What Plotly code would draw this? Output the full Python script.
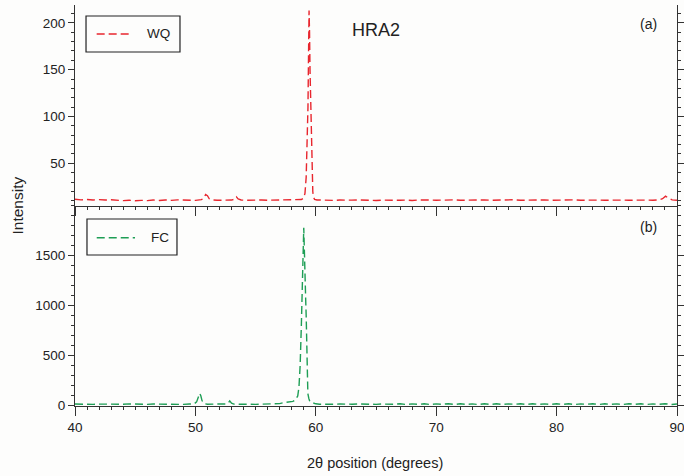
import plotly.graph_objects as go

# ---------------- data ----------------
wq_x = [40.0, 40.5, 41.0, 41.5, 42.0, 42.5, 43.0, 43.5, 44.0, 44.5, 45.0, 45.5, 46.0, 46.5, 47.0,
        47.5, 48.0, 48.5, 49.0, 49.5, 50.0, 50.5, 50.7, 50.85, 51.0, 51.15, 51.4, 51.8, 52.2, 52.6,
        53.0, 53.25, 53.4, 53.55, 53.8, 54.2, 54.6, 55.0, 55.5, 56.0, 56.5, 57.0, 57.5, 58.0, 58.5,
        58.8, 59.0, 59.1, 59.2, 59.3, 59.35, 59.4, 59.44, 59.48, 59.52, 59.56, 59.6, 59.65, 59.7,
        59.75, 59.8, 59.9, 60.1, 60.5, 61.0, 61.5, 62.0, 62.5, 63.0, 63.5, 64.0, 64.5, 65.0, 65.5,
        66.0, 66.5, 67.0, 67.5, 68.0, 68.5, 69.0, 69.5, 70.0, 70.5, 71.0, 71.5, 72.0, 72.5, 73.0,
        73.5, 74.0, 74.5, 75.0, 75.5, 76.0, 76.5, 77.0, 77.5, 78.0, 78.5, 79.0, 79.5, 80.0, 80.5,
        81.0, 81.5, 82.0, 82.5, 83.0, 83.5, 84.0, 84.5, 85.0, 85.5, 86.0, 86.5, 87.0, 87.5, 88.0,
        88.5, 88.8, 89.05, 89.3, 89.6, 90.0]
wq_y = [11.6, 11.0, 11.4, 10.9, 11.3, 10.8, 11.1, 10.6, 10.2, 10.6, 10.1, 10.5, 10.2, 10.8, 10.4,
        10.9, 10.5, 11.0, 10.6, 10.9, 10.5, 11.2, 12.8, 16.8, 15.5, 12.2, 10.9, 10.6, 10.9, 10.5,
        10.8, 11.8, 14.2, 12.0, 10.9, 10.6, 10.9, 10.5, 10.9, 10.6, 10.8, 10.5, 10.9, 10.7, 11.0,
        11.4, 13.0, 18.0, 35.0, 75.0, 110.0, 170.0, 213.0, 190.0, 150.0, 125.0, 100.0, 65.0, 35.0,
        20.0, 14.0, 11.6, 10.9, 10.6, 10.9, 10.5, 10.8, 10.4, 10.7, 10.9, 10.5, 10.8, 10.4, 10.7,
        10.5, 10.9, 10.6, 10.8, 10.4, 10.9, 10.5, 10.8, 10.6, 10.9, 10.5, 11.0, 10.6, 10.8, 11.1,
        10.7, 11.0, 10.6, 10.9, 10.5, 10.8, 11.1, 10.6, 10.9, 10.5, 10.8, 11.0, 10.6, 10.9, 10.5,
        10.8, 11.0, 10.6, 10.9, 10.5, 10.8, 10.6, 10.9, 10.5, 10.8, 10.6, 10.9, 10.5, 10.8, 10.6,
        11.0, 12.2, 15.0, 12.8, 11.0, 10.6]

fc_x = [40.0, 40.5, 41.0, 41.5, 42.0, 42.5, 43.0, 43.5, 44.0, 44.5, 45.0, 45.5, 46.0, 46.5, 47.0,
        47.5, 48.0, 48.5, 49.0, 49.5, 49.9, 50.1, 50.25, 50.36, 50.45, 50.55, 50.7, 51.0, 51.5, 52.0,
        52.5, 52.7, 52.85, 53.0, 53.2, 53.6, 54.0, 54.5, 55.0, 55.5, 56.0, 56.5, 57.0, 57.3, 57.6,
        57.9, 58.1, 58.3, 58.5, 58.6, 58.7, 58.8, 58.87, 58.94, 59.0, 59.04, 59.08, 59.12, 59.16,
        59.2, 59.24, 59.28, 59.34, 59.42, 59.5, 59.65, 59.8, 60.0, 60.3, 60.6, 61.0, 61.5, 62.0,
        62.5, 63.0, 63.5, 64.0, 64.5, 65.0, 65.5, 66.0, 66.5, 67.0, 67.5, 68.0, 68.5, 69.0, 69.5,
        70.0, 70.5, 71.0, 71.5, 72.0, 72.5, 73.0, 73.5, 74.0, 74.5, 75.0, 75.5, 76.0, 76.5, 77.0,
        77.5, 78.0, 78.5, 79.0, 79.5, 80.0, 80.5, 81.0, 81.5, 82.0, 82.5, 83.0, 83.5, 84.0, 84.5,
        85.0, 85.5, 86.0, 86.5, 87.0, 87.5, 88.0, 88.5, 89.0, 89.5, 90.0]
fc_y = [14, 11, 15, 10, 13, 11, 14, 10, 12, 15, 11, 13, 10, 14, 12,
        15, 11, 13, 10, 14, 16, 35, 82, 120, 96, 48, 18, 12, 13, 10,
        14, 20, 45, 22, 13, 11, 14, 12, 10, 13, 11, 14, 18, 27, 30,
        35, 40, 55, 95, 180, 400, 800, 1150, 1460, 1777, 1600, 1300, 1110, 1060,
        900, 600, 250, 120, 70, 40, 30, 22, 16, 12, 10, 13, 11, 14,
        10, 12, 15, 11, 13, 10, 14, 12, 11, 16, 9, 15, 10, 17, 9,
        15, 11, 17, 9, 16, 10, 15, 9, 17, 10, 16, 9, 15, 11, 17,
        9, 16, 10, 15, 9, 17, 10, 16, 9, 15, 11, 17, 9, 16, 10,
        15, 9, 17, 10, 16, 9, 15, 11, 17, 9, 14]

x_ticks = [40, 50, 60, 70, 80, 90]
top_ticks = [50, 100, 150, 200]
bot_ticks = [0, 500, 1000, 1500]
series_names = ["WQ", "FC"]

RED = "#E8262E"
GREEN = "#1E9E55"
AX = "#333333"
BG = "#FDFDFC"
TXT = "#222222"
FONT = "Liberation Sans, Arial, sans-serif"
DASH = "8px,4px"

fig = go.Figure()
fig.add_trace(go.Scatter(x=wq_x, y=wq_y, mode="lines", name=series_names[0], xaxis="x2", yaxis="y2",
                         line=dict(color=RED, width=1.4, dash=DASH), showlegend=False))
fig.add_trace(go.Scatter(x=fc_x, y=fc_y, mode="lines", name=series_names[1], xaxis="x", yaxis="y",
                         line=dict(color=GREEN, width=1.4, dash=DASH), showlegend=False))

tickfont = dict(family=FONT, size=13.5, color=TXT)
common_x = dict(range=[40, 90], tickvals=x_ticks, showline=True, linecolor=AX, linewidth=1,
                tickcolor=AX, showgrid=False, zeroline=False, automargin=False, tickfont=tickfont,
                ticklabeloverflow="allow")
minor_out = dict(dtick=1, tick0=40, ticklen=3, tickcolor=AX, ticks="outside", showgrid=False)
minor_in = dict(dtick=1, tick0=40, ticklen=3, tickcolor=AX, ticks="inside", showgrid=False)
common_y = dict(showline=True, linecolor=AX, linewidth=1, mirror="ticks", ticks="outside",
                ticklen=6, tickcolor=AX, showgrid=False, zeroline=False, automargin=False,
                tickfont=tickfont)

fig.update_layout(
    width=684, height=476,
    margin=dict(l=75, r=7, t=5, b=70),
    paper_bgcolor=BG, plot_bgcolor=BG,
    font=dict(family=FONT, size=13, color=TXT),
    showlegend=False,
    xaxis=dict(**common_x, domain=[0, 1], anchor="y", ticks="outside", ticklen=9, minor=minor_out),
    xaxis2=dict(**common_x, domain=[0, 1], anchor="y2", ticks="outside", ticklen=9,
                minor=minor_out, showticklabels=False, matches="x"),
    xaxis3=dict(**common_x, overlaying="x2", anchor="y2", side="top", ticks="inside",
                ticklen=9, minor=minor_in, showticklabels=False),
    yaxis=dict(**common_y, domain=[0, 0.5], range=[-6, 2000], tickvals=bot_ticks,
               minor=dict(dtick=100, tick0=0, ticklen=3, tickcolor=AX, ticks="outside")),
    yaxis2=dict(**common_y, domain=[0.5, 1], range=[5, 219], tickvals=top_ticks,
                minor=dict(dtick=10, tick0=0, ticklen=3, tickcolor=AX, ticks="outside")),
)

# axis titles and labels
fig.add_annotation(text="2θ position (degrees)", xref="paper", yref="paper", x=0.498, y=-0.142,
                   showarrow=False, font=dict(family=FONT, size=14.5, color=TXT),
                   xanchor="center", yanchor="middle")
fig.add_annotation(text="Intensity", xref="paper", yref="paper", x=-0.0947, y=0.5,
                   textangle=-90, showarrow=False, font=dict(family=FONT, size=15.5, color=TXT),
                   xanchor="center", yanchor="middle")
fig.add_annotation(text="HRA2", xref="paper", yref="paper", x=0.5, y=0.9377,
                   showarrow=False, font=dict(family=FONT, size=18, color=TXT),
                   xanchor="center", yanchor="middle")
fig.add_annotation(text="(a)", xref="paper", yref="paper", x=0.9527, y=0.9514,
                   showarrow=False, font=dict(family=FONT, size=14, color=TXT),
                   xanchor="center", yanchor="middle")
fig.add_annotation(text="(b)", xref="paper", yref="paper", x=0.9527, y=0.446,
                   showarrow=False, font=dict(family=FONT, size=14, color=TXT),
                   xanchor="center", yanchor="middle")

# legend boxes (drawn in paper coordinates)
legends = [
    dict(name=series_names[0], color=RED, box=(0.0183, 0.8828, 0.1744, 0.9726),
         line=(0.0360, 0.0942, 0.9277), text_x=0.1163),
    dict(name=series_names[1], color=GREEN, box=(0.0199, 0.3766, 0.1694, 0.4663),
         line=(0.0361, 0.0997, 0.4197), text_x=0.1229),
]
for lg in legends:
    x0, y0, x1, y1 = lg["box"]
    fig.add_shape(type="rect", xref="paper", yref="paper", x0=x0, y0=y0, x1=x1, y1=y1,
                  line=dict(color=TXT, width=1.2), fillcolor=BG, layer="above")
    lx0, lx1, ly = lg["line"]
    fig.add_shape(type="line", xref="paper", yref="paper", x0=lx0, x1=lx1, y0=ly, y1=ly,
                  line=dict(color=lg["color"], width=1.4, dash=DASH), layer="above")
    fig.add_annotation(text=lg["name"], xref="paper", yref="paper", x=lg["text_x"], y=ly,
                       showarrow=False, font=dict(family=FONT, size=13.5, color=TXT),
                       xanchor="left", yanchor="middle")

fig.write_html("out.html", config={"displayModeBar": False},
               post_script="document.body.style.margin='0';document.body.style.overflow='hidden';")
